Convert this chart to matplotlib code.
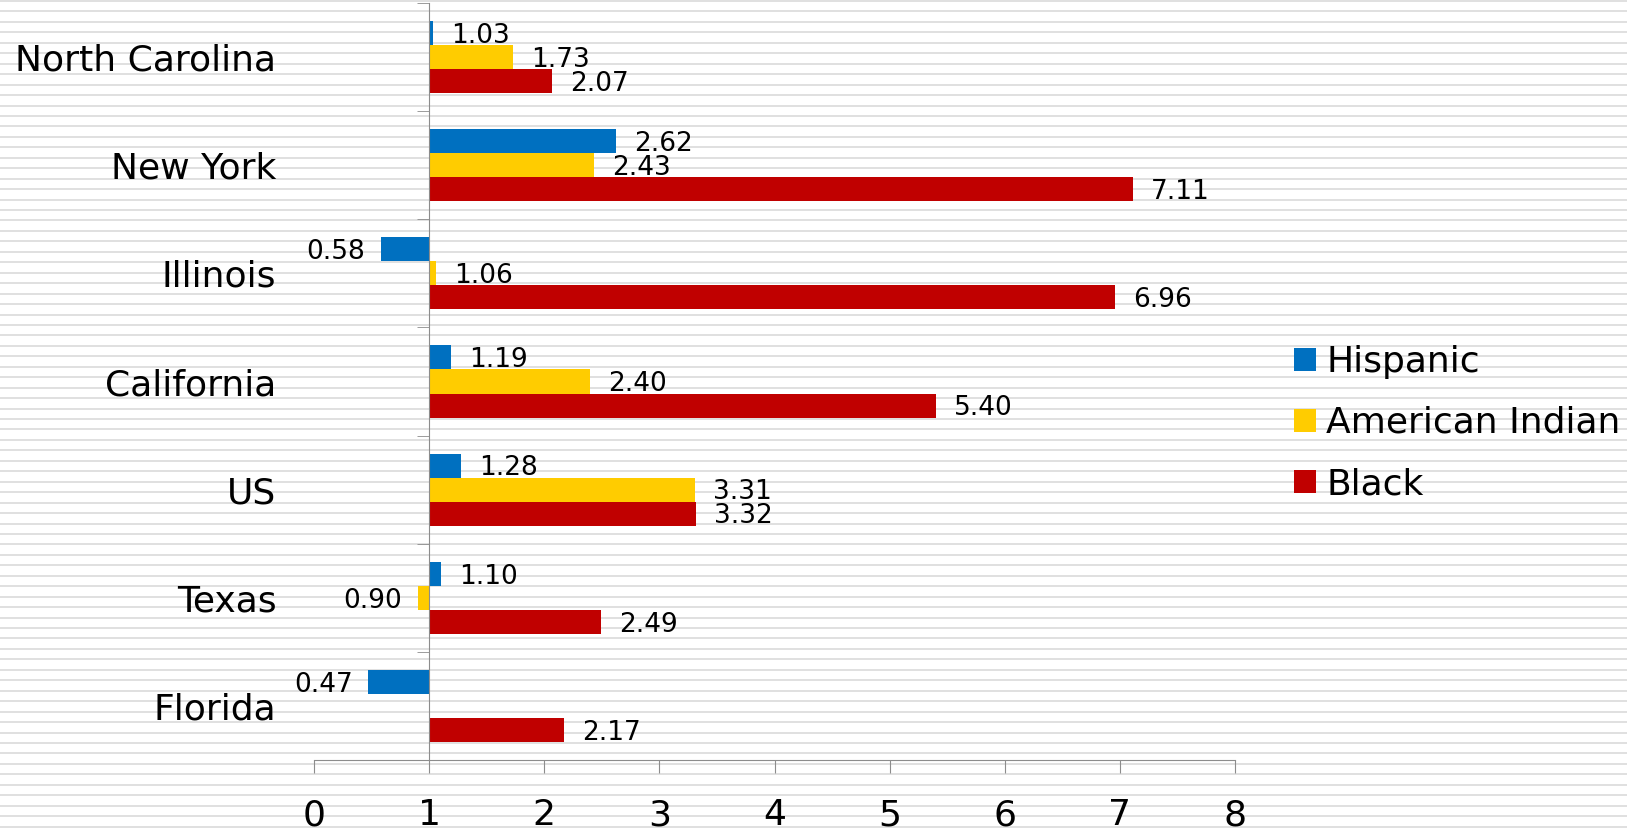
import numpy as np
import matplotlib
matplotlib.use("Agg")
import matplotlib.pyplot as plt

categories = ["North Carolina", "New York", "Illinois", "California", "US", "Texas", "Florida"]
hispanic = [1.03, 2.62, 0.58, 1.19, 1.28, 1.10, 0.47]
american_indian = [1.73, 2.43, 1.06, 2.40, 3.31, 0.90, np.nan]
black = [2.07, 7.11, 6.96, 5.40, 3.32, 2.49, 2.17]
series_names = ["Hispanic", "American Indian", "Black"]
colors = ["#0070C0", "#FFCC00", "#C00000"]
xticks = [0, 1, 2, 3, 4, 5, 6, 7, 8]
baseline = 1.0

W, H = 1627, 836
fig = plt.figure(figsize=(W / 100, H / 100), dpi=100)
fig.patch.set_facecolor("white")

# striped background
bg = fig.add_axes([0, 0, 1, 1], zorder=0)
bg.set_xlim(0, W)
bg.set_ylim(H, 0)
bg.axis("off")
for yy in np.arange(1.0, H, 10.45):
    bg.axhline(yy, color="#e0e0e0", lw=1.4)

ax = fig.add_axes([314 / W, 1 - 760 / H, (1235 - 314) / W, (760 - 3) / H], zorder=1)
ax.set_facecolor("none")

n = len(categories)
y = np.arange(n)
h = 0.222
offsets = [-h, 0.0, h]
all_series = [hispanic, american_indian, black]
for vals, off, col, name in zip(all_series, offsets, colors, series_names):
    vals = np.array(vals, dtype=float)
    widths = vals - baseline
    ax.barh(y + off, widths, left=baseline, height=h, color=col, label=name, zorder=2)
    for yi, v in zip(y, vals):
        if np.isnan(v):
            continue
        if v >= baseline:
            ax.annotate(f"{v:.2f}", (v, yi + off), xytext=(13, -2), textcoords="offset points",
                        ha="left", va="center", fontsize=19, color="black")
        else:
            ax.annotate(f"{v:.2f}", (v, yi + off), xytext=(-11, -2), textcoords="offset points",
                        ha="right", va="center", fontsize=19, color="black")

ax.set_xlim(0, 8)
ax.set_ylim(n - 0.5, -0.5)
ax.set_xticks(xticks)
ax.set_xticklabels([str(t) for t in xticks])
ax.set_yticks(y)
ax.set_yticklabels(categories)
ax.set_yticks(np.arange(-0.5, n, 1.0), minor=True)

for s in ["top", "right"]:
    ax.spines[s].set_visible(False)
ax.spines["left"].set_position(("data", baseline))
ax.spines["left"].set_color("#8c8c8c")
ax.spines["bottom"].set_color("#8c8c8c")
ax.spines["left"].set_zorder(3)

ax.tick_params(axis="y", which="major", length=0, pad=110, labelsize=26)
ax.tick_params(axis="y", which="minor", length=9, color="#8c8c8c", direction="out")
ax.tick_params(axis="x", which="major", length=9.5, color="#8c8c8c", direction="out", pad=18, labelsize=26)

ax.legend(loc="center left", bbox_to_anchor=(1294 / W, 1 - 423 / H), bbox_transform=fig.transFigure,
          frameon=False, fontsize=26, handlelength=0.6, handleheight=0.6, handletextpad=0.3,
          labelspacing=0.75, borderpad=0, borderaxespad=0)

fig.savefig("out.png", dpi=100)
